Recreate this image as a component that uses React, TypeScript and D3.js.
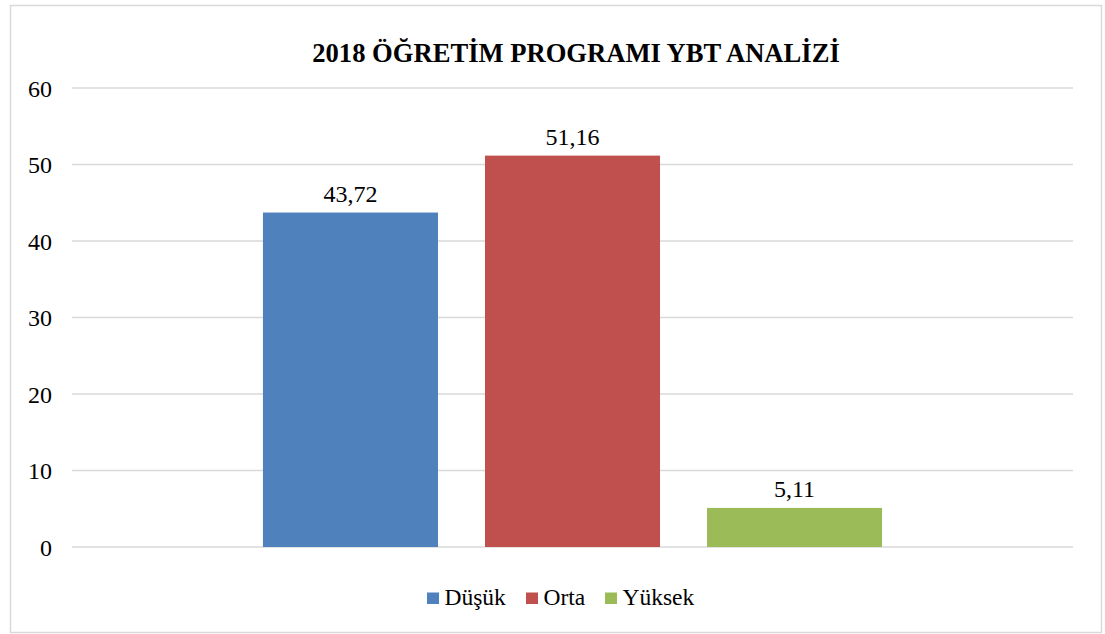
import React from 'react'
import * as d3 from 'd3'

const title = '2018 ÖĞRETİM PROGRAMI YBT ANALİZİ'
const seriesNames = ['Düşük', 'Orta', 'Yüksek']
const seriesValues = [43.72, 51.16, 5.11]
const seriesColors = ['#4f81bd', '#c0504d', '#9bbb59']
const yTicks = [0, 10, 20, 30, 40, 50, 60]

const W = 1105
const H = 634
const plot = { left: 72, right: 1073, top: 88, bottom: 547 }
const font = "'Liberation Serif', 'Times New Roman', Times, 'DejaVu Serif', serif"

export default function App() {
  const y = d3.scaleLinear().domain([0, 60]).range([plot.bottom, plot.top])
  const x = d3.scaleBand<string>()
    .domain(seriesNames)
    .range([plot.left, plot.right])
    .paddingInner(0.2117)
    .paddingOuter(0.86)

  const fmt = (v: number) => d3.format('.2f')(v).replace('.', ',')

  // legend: square x positions, text follows each square
  const legendX = [427, 526, 605]

  return (
    <svg width={W} height={H} style={{ position: 'absolute', left: 0, top: 0, background: '#fff', fontFamily: font }}>
      <rect x={10.5} y={5.5} width={1091} height={627} fill="#fff" stroke="#d9d9d9" strokeWidth={1.5} />
      <text x={576} y={62} textAnchor="middle" fontWeight="bold" fontSize={26.6} fill="#000">
        {title}
      </text>
      <g id="grid">
        {yTicks.map(t => (
          <g key={t}>
            <line x1={plot.left} x2={plot.right} y1={y(t)} y2={y(t)} stroke="#d9d9d9" strokeWidth={1.5} />
            <text x={52} y={y(t) + 8.7} textAnchor="end" fontSize={24} fill="#000">{t}</text>
          </g>
        ))}
      </g>
      <g id="bars">
        {seriesNames.map((s, i) => (
          <g key={s}>
            <rect x={x(s)} y={y(seriesValues[i])} width={x.bandwidth()} height={y(0) - y(seriesValues[i])} fill={seriesColors[i]} />
            <text x={(x(s) as number) + x.bandwidth() / 2} y={y(seriesValues[i]) - 11} textAnchor="middle" fontSize={24} fill="#000">
              {fmt(seriesValues[i])}
            </text>
          </g>
        ))}
      </g>
      <g id="legend">
        {seriesNames.map((s, i) => (
          <g key={s}>
            <rect x={legendX[i]} y={592.5} width={12} height={11.5} fill={seriesColors[i]} />
            <text x={legendX[i] + 17.5} y={605} fontSize={23.5} fill="#000">{s}</text>
          </g>
        ))}
      </g>
    </svg>
  )
}
